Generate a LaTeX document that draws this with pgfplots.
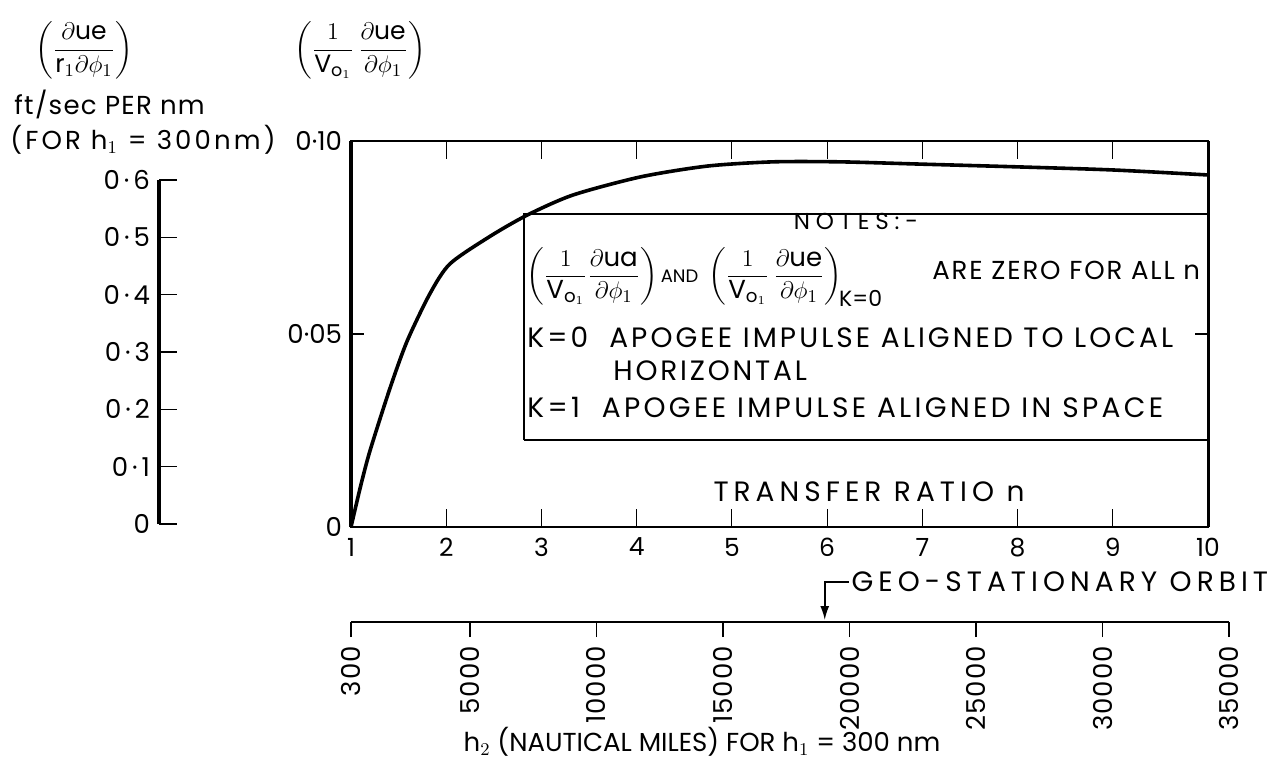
\documentclass[border=0pt]{standalone}
\usepackage{amsmath}
\usepackage{pgfplots}
\pgfplotsset{compat=1.18}
\usepackage{fontspec}
\setmainfont{Poppins}
\usetikzlibrary{arrows.meta}

\newcommand{\fs}[1]{\fontsize{#1}{#1}\selectfont}
\newcommand{\ls}[1]{\addfontfeature{LetterSpace=#1}}
\newcommand{\dt}{\hspace{2pt}·\hspace{2pt}}

% transfer ratio n  vs  (1/V_o1) d(ue)/d(phi_1), K = 1
\pgfplotstableread{
n      dv
1.00   0.0000
1.10   0.0105
1.20   0.0198
1.41   0.0360
1.59   0.0482
1.83   0.0605
2.04   0.0682
2.46   0.0753
2.85   0.0808
3.33   0.0860
4.04   0.0907
4.74   0.0935
5.43   0.0946
6.14   0.0946
7.00   0.0940
8.00   0.0933
9.00   0.0925
10.00  0.0912
}\curvedata

\begin{document}
\begin{tikzpicture}
\useasboundingbox (0,0) rectangle (639.5pt,-380.5pt);

% ---- auxiliary scale: ft/sec per nm for h1 = 300 nm
\begin{axis}[
  at={(79.5pt,-262pt)}, anchor=south west,
  scale only axis, width=1pt, height=172pt,
  xmin=0, xmax=1, ymin=0, ymax=0.6,
  axis x line=none, axis y line*=left,
  ytick={0,0.1,0.2,0.3,0.4,0.5,0.6},
  yticklabels={0,0\dt1,0\dt2,0\dt3,0\dt4,0\dt5,0\dt6},
  tick align=inside, major tick length=9pt,
  y axis line style={line width=1.6pt},
  ytick style={line width=0.6pt, black},
  yticklabel style={font=\fs{13}, xshift=-1pt},
]
\end{axis}

% ---- main axis
\begin{axis}[
  at={(175.5pt,-263.5pt)}, anchor=south west,
  scale only axis, width=428.5pt, height=193pt,
  xmin=1, xmax=10, ymin=0, ymax=0.1,
  xtick={1,2,3,4,5,6,7,8,9,10},
  xticklabels={1,2,3,4,5,6,7,8,9,10},
  ytick={0,0.05,0.1},
  yticklabels={0,0·05,0·10},
  tick align=inside,
  xticklabel pos=lower, yticklabel pos=left,
  xtick style={/pgfplots/major tick length=9pt, line width=0.6pt, black},
  ytick style={/pgfplots/major tick length=6.5pt, line width=0.6pt, black},
  axis line style={line width=0.9pt},
  xticklabel style={font=\fs{12.5}, yshift=-2pt},
  yticklabel style={font=\fs{13}, xshift=-1pt},
  clip=false,
]
\addplot[black, line width=1.8pt, smooth, tension=0.45] table[x=n, y=dv] {\curvedata};
\draw[line width=2pt] (rel axis cs:0,0) -- (rel axis cs:0,1);
\draw[line width=1.5pt] (rel axis cs:1,0) -- (rel axis cs:1,1);
\node[font=\fs{14}\ls{18}] at (axis cs:6.44,0.0091) {TRANSFER RATIO n};
\end{axis}

% ---- notes box
\draw[line width=0.9pt] (262pt,-220pt) -- (262pt,-107pt) -- (604pt,-107pt);
\draw[line width=0.9pt] (262pt,-220pt) -- (604pt,-220pt);
\node[inner sep=0pt, font=\fs{11.5}\ls{25}] at (428pt,-110.5pt) {NOTES:-};
\node[anchor=west, inner sep=0pt, font=\fs{13}] at (263pt,-138.5pt)
  {$\left(\dfrac{1}{\mathrm{V}_{\mathrm{o}_1}}\dfrac{\partial\mathrm{ua}}{\partial\phi_1}\right)$\hspace{1.5pt}{\fs{9}AND}\hspace{5pt}$\left(\dfrac{1}{\mathrm{V}_{\mathrm{o}_1}}\,\dfrac{\partial\mathrm{ue}}{\partial\phi_1}\right)_{\!\text{\fs{11}K=0}}$};
\node[anchor=west, inner sep=0pt, font=\fs{13}\ls{7}] at (466pt,-135pt) {ARE ZERO FOR ALL n};
\node[anchor=west, inner sep=0pt, font=\fs{14}\ls{11}] at (263.5pt,-168.5pt) {K=0\ \ APOGEE IMPULSE\ ALIGNED TO LOCAL};
\node[anchor=west, inner sep=0pt, font=\fs{14}\ls{10}] at (306.5pt,-185.5pt) {HORIZONTAL};
\node[anchor=west, inner sep=0pt, font=\fs{14}\ls{12}] at (263.5pt,-203.5pt) {K=1\ \ APOGEE IMPULSE ALIGNED IN SPACE};

% ---- headings of the two vertical scales
\node[font=\fs{12.5}] at (42pt,-25pt) {$\left(\dfrac{\partial\mathrm{ue}}{\mathrm{r}_1\partial\phi_1}\right)$};
\node[font=\fs{12.5}] at (180pt,-25pt) {$\left(\dfrac{1}{\mathrm{V}_{\mathrm{o}_1}}\,\dfrac{\partial\mathrm{ue}}{\partial\phi_1}\right)$};
\node[anchor=west, inner sep=0pt, font=\fs{13}\ls{5}] at (7pt,-52pt) {ft/sec PER nm};
\node[anchor=west, inner sep=0pt, font=\fs{13}\ls{12}] at (5pt,-70pt) {(FOR h$_1$ = 300nm)};

% ---- h2 scale for h1 = 300 nm
\begin{axis}[
  at={(175.5pt,-311pt)}, anchor=south west,
  scale only axis, width=439pt, height=10pt,
  xmin=300, xmax=35000, ymin=0, ymax=1,
  axis y line=none, axis x line*=bottom,
  scaled x ticks=false,
  xtick={300,5000,10000,15000,20000,25000,30000,35000},
  xticklabels={300,5000,10000,15000,20000,25000,30000,35000},
  tick align=outside, major tick length=7.5pt,
  x axis line style={line width=1.2pt},
  xtick style={line width=0.6pt, black},
  xticklabel style={font=\fs{13}\ls{4}, rotate=90, anchor=east, xshift=-1pt},
  clip=false,
]
\draw[line width=0.9pt, {Latex[length=7pt,width=4.5pt]}-] (axis cs:19323,0) ++(0,1pt) |- ++(12pt,19pt)
  node[anchor=west, inner sep=1pt, font=\fs{14}\ls{18}] {GEO-STATIONARY ORBIT};
\end{axis}

\node[font=\fs{13}] at (351pt,-371pt) {h$_2$ (NAUTICAL MILES) FOR h$_1$ = 300 nm};
\end{tikzpicture}
\end{document}
